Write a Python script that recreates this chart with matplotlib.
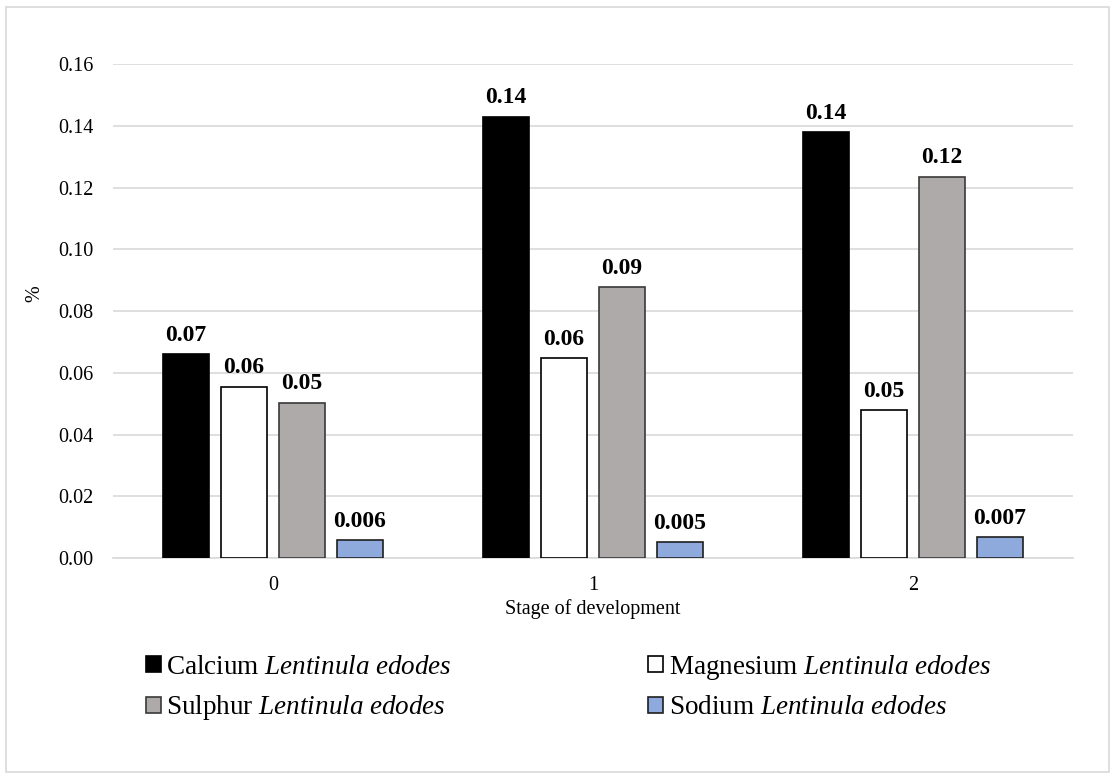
import numpy as np
import matplotlib
matplotlib.use("Agg")
import matplotlib.pyplot as plt
from matplotlib.patches import Rectangle

plt.rcParams['font.family'] = ['Liberation Serif', 'DejaVu Serif']
plt.rcParams['mathtext.fontset'] = 'custom'
plt.rcParams['mathtext.rm'] = 'Liberation Serif'
plt.rcParams['mathtext.it'] = 'Liberation Serif:italic'

stages = ['0', '1', '2']
calcium = [0.0661, 0.1430, 0.1380]
magnesium = [0.0555, 0.0648, 0.0478]
sulphur = [0.0503, 0.0878, 0.1235]
sodium = [0.0058, 0.0052, 0.0067]

series = [
    ('Calcium', calcium, '#000000', '#000000', '{:.2f}'),
    ('Magnesium', magnesium, '#FFFFFF', '#000000', '{:.2f}'),
    ('Sulphur', sulphur, '#AEAAAA', '#3A3A3A', '{:.2f}'),
    ('Sodium', sodium, '#8EA9DB', '#1F1F1F', '{:.3f}'),
]

fig = plt.figure(figsize=(11.12, 7.75), dpi=100)
ax = fig.add_axes([0.1016, 0.28, 0.8634, 0.6374])

x = np.arange(len(stages))
pitch = 0.181
width = 0.144
handles = []
for i, (name, vals, fc, ec, fmt) in enumerate(series):
    off = (i - 1.5) * pitch
    bars = ax.bar(x + off, vals, width, color=fc, edgecolor=ec, linewidth=1.2,
                  zorder=3, label=name + r' $\it{Lentinula\ edodes}$')
    handles.append(bars)
    for xi, v in zip(x + off, vals):
        ax.annotate(fmt.format(v), (xi, v), xytext=(0, 6), textcoords='offset points',
                    ha='center', va='bottom', fontsize=17, fontweight='bold')

ax.set_xlim(-0.5, 2.5)
ax.set_ylim(0, 0.16)
ticks = np.arange(0, 0.161, 0.02)
ax.set_yticks(ticks)
ax.set_yticklabels(['{:.2f}'.format(t) for t in ticks])
ax.set_xticks(x)
ax.set_xticklabels(stages)
ax.tick_params(axis='both', length=0, labelsize=14.5, colors='#000000')
ax.tick_params(axis='y', pad=14)
ax.tick_params(axis='x', pad=13)
ax.yaxis.grid(True, color='#D9D9D9', linewidth=1.2, zorder=0)
ax.set_axisbelow(True)
for s in ['top', 'right', 'left']:
    ax.spines[s].set_visible(False)
ax.spines['bottom'].set_color('#D9D9D9')
ax.spines['bottom'].set_linewidth(1.2)

ax.set_xlabel('Stage of development', fontsize=14.5, labelpad=3)
ax.set_ylabel('%', fontsize=14.5)
ax.yaxis.set_label_coords(-0.0715, 0.536)

# legend goes column by column, so order Ca, S | Mg, Na
order = [0, 2, 1, 3]
fig.legend([handles[k] for k in order], [handles[k].get_label() for k in order],
           ncol=2, loc='upper left', bbox_to_anchor=(0.119, 0.175),
           frameon=False, fontsize=19.5, handlelength=0.55, handleheight=0.55,
           handletextpad=0.2, columnspacing=7.25, labelspacing=0.5, borderpad=0)

fig.patches.append(Rectangle((0.005, 0.004), 0.992, 0.987, transform=fig.transFigure,
                             fill=False, edgecolor='#D9D9D9', linewidth=1.2))

fig.savefig('out.png', dpi=100, facecolor='white')
